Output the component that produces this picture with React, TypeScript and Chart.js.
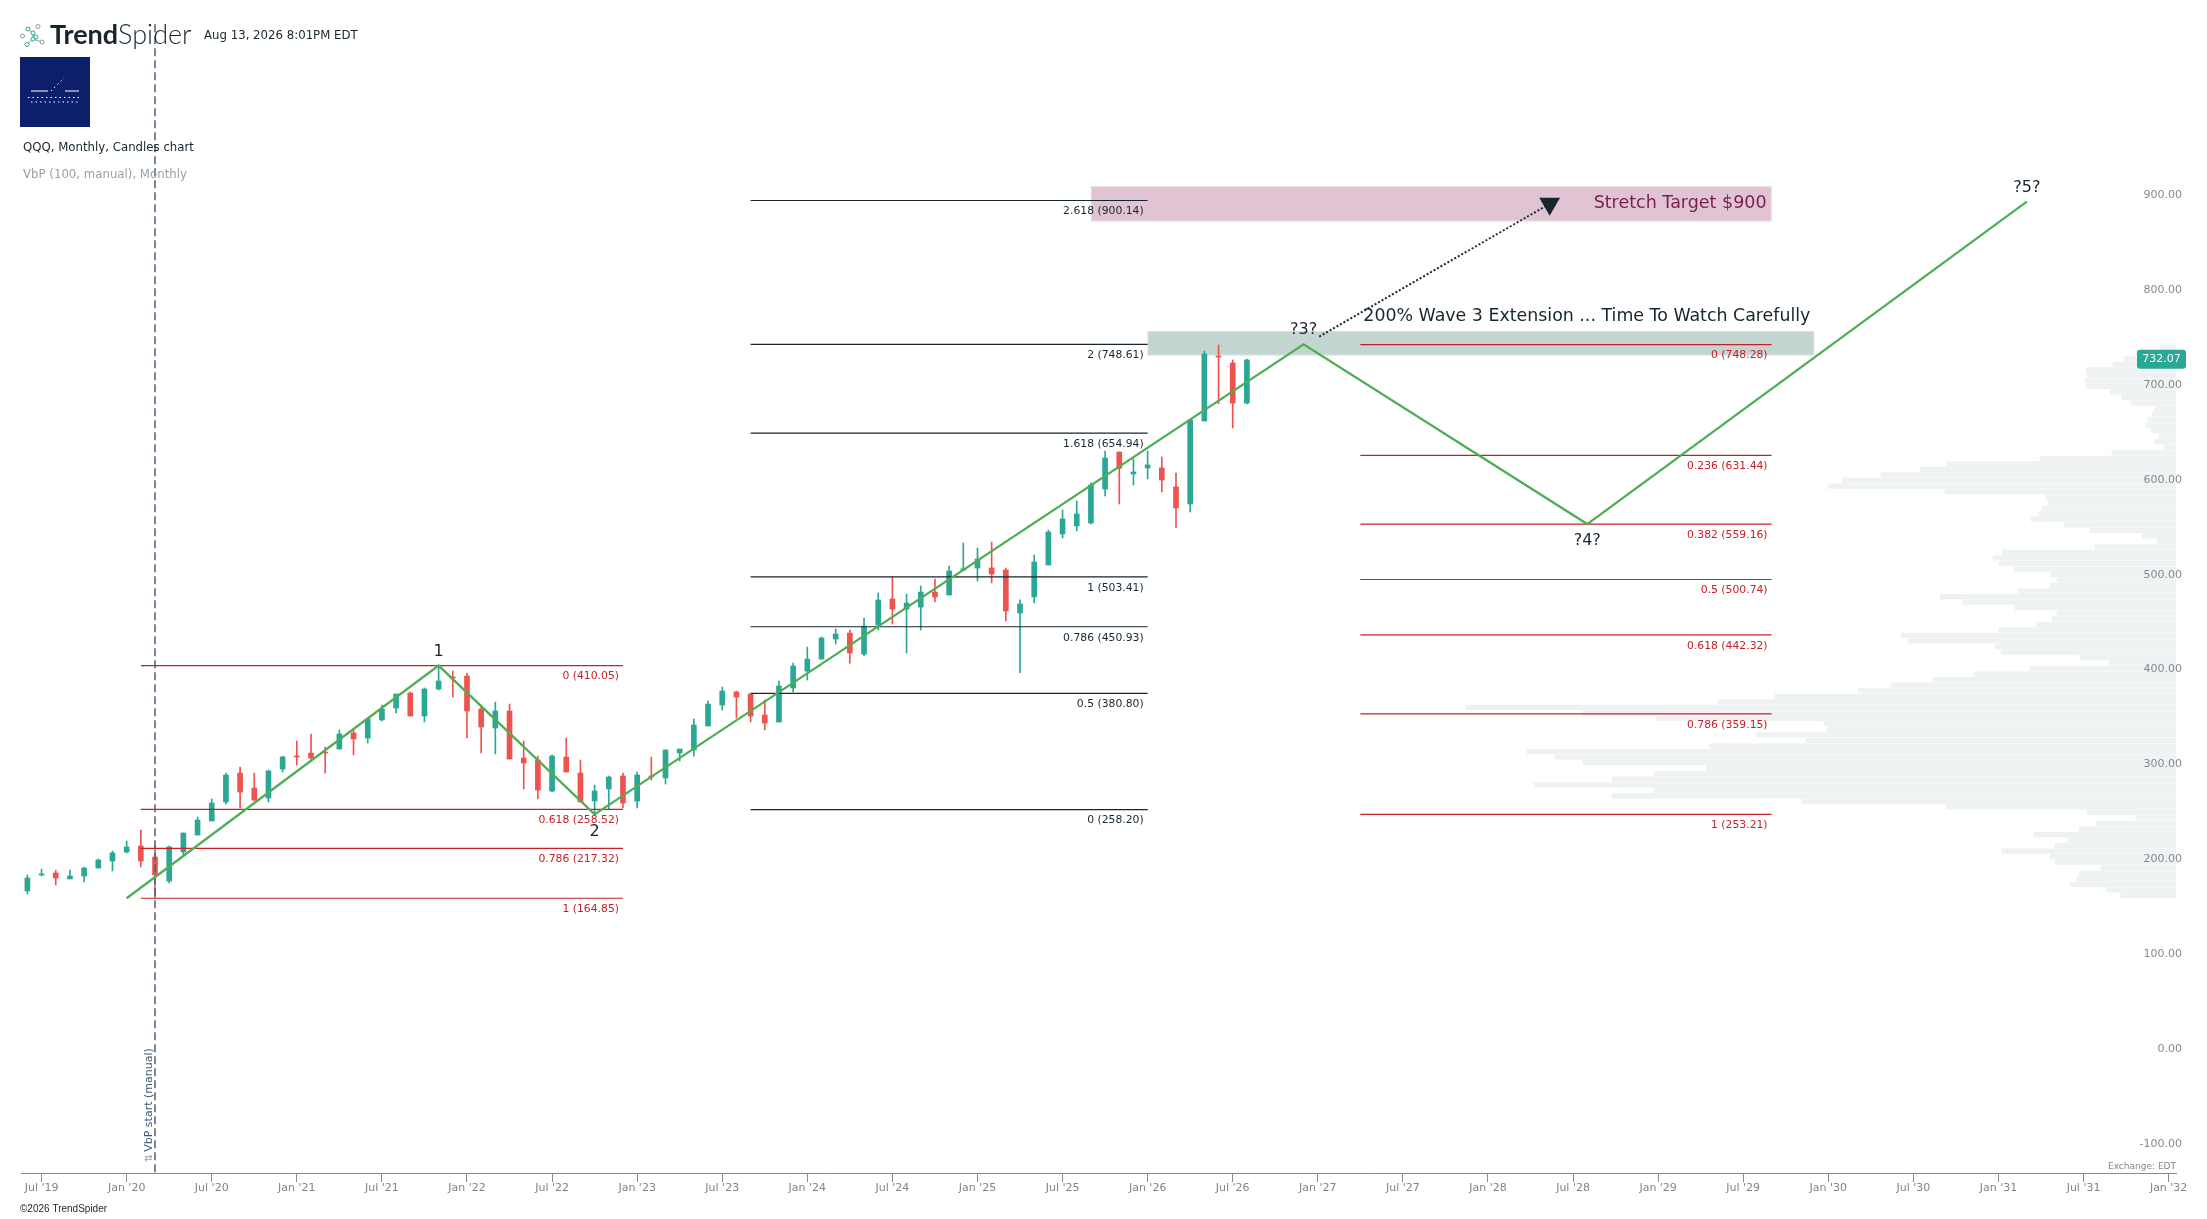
import React, { useEffect, useRef } from "react";
import { Chart, registerables } from "chart.js";

Chart.register(...registerables);

// Months counted from Jun '19 = 0
const opens = [172.5,189.4,191.5,185.2,188.3,196.7,204.1,213.6,219.9,208.3,183.0,213.6,231.5,246.3,266.3,296.8,281.0,270.5,301.1,314.7,317.9,319,322.1,339,333.7,352.7,365.3,381.1,356.9,385.3,398,399,364.3,344.3,362.2,312.6,310.5,277.9,313.7,296.8,267.3,280,293.7,267.3,293.7,291.6,317.9,321.1,346.4,368.5,382.2,380.1,358,350.6,386.4,404.3,416.9,438,444.3,422.2,452.8,480.2,469.6,471.7,487.5,484.4,510.7,512.8,512.9,510.8,465.5,482.4,516.1,548.7,557.2,560.3,596.1,635.1,612,618.3,618.3,598.3,580.3,667.8,736.3,728.9,686.7];
const highs = [189.4,195.7,194.6,194.6,197.8,206.2,214.7,225.2,236.8,221,219.9,233.6,250.5,269.5,296.8,303.2,296.8,300,314.7,330.6,337.9,324.2,342.2,342.2,354.8,368.5,380.1,382.2,386.4,410.05,404.3,402.2,368.5,371.6,369.5,330.6,314.7,315.8,333.7,310.5,284.2,293.7,296.8,297.9,313.7,321.1,322.1,353.7,372.7,387.4,383.2,380.1,373.8,393.8,412.7,429.6,440.1,448.6,447.5,460.1,486.5,503.3,485.4,493.9,501.2,514.9,539.2,533.9,540.3,512.9,479.2,526.6,552.9,574,583.5,602.5,636.2,635.1,627.8,636.2,629.9,613,668.8,741.5,747.9,732.1,733.1];
const lows = [169.4,188.3,178.8,185.2,182.0,196.7,193.6,212.6,197.8,164.85,180.9,210.4,231.5,246.3,264.2,260.0,267.3,266.3,297.9,305.3,310.5,296.8,322.1,315.8,328.4,351.6,360.1,356.9,350.6,384.3,376.9,333.7,317.9,316.9,311.6,280,269.5,276.8,297.9,266.3,252.6,258.9,260,260,289.5,285.2,309.5,314.7,346.4,363.2,354.8,350.6,342.2,350.6,382.2,394.8,416.9,432.8,412.7,420.1,447.5,453.8,423.3,447.5,477,484.4,510.7,499.1,497.1,457.1,402.5,476,516.1,544.5,551.9,559.3,588.8,580.3,600.4,606.7,593,555,571.9,667.8,685.7,660.4,685.7];
const closes = [186.2,190.4,186.2,188.3,196.7,205.2,212.6,218.9,204.1,189.4,218.9,233.6,247.3,265.2,294.7,276.8,268.4,299,313.7,313.7,312.6,317.9,337.9,332.7,353.7,364.3,380.1,356.9,385.3,393.8,396.9,362.2,345.3,362.2,311.6,307.4,278.9,314.7,297.9,266.3,277.9,292.6,265.2,294.7,292.6,321.1,322.1,347.4,369.5,383.2,376.9,356.9,349.5,388.5,409.6,416.9,439.1,443.3,423.3,451.7,479.1,469.6,475.9,487.5,482.3,509.7,512,522.3,506.6,467.6,475,519.2,550.8,564.5,569.8,600.4,628.8,617.9,614,621.4,605.6,576.1,668.8,738.4,735.2,686.7,732.07];

// Volume by price, top bin first
const vbpTopPrice = 745;
const vbpBinSize = 5.83;
const vbpVolumes = [16,40,52,63,90,89,91,90,66,54,45,21,24,28,30,25,17,21,11,64,136,229,256,295,334,348,231,130,128,134,137,145,112,86,34,19,81,174,183,177,162,125,119,126,158,236,213,161,119,124,139,177,275,268,181,175,96,67,146,202,243,285,318,401,458,710,593,520,352,349,420,370,467,649,621,593,470,522,564,642,522,564,374,230,89,40,80,97,142,108,121,174,126,121,75,97,99,106,69,55];

const yTickValues = [900,800,700,600,500,400,300,200,100,0,-100];
const xTickMonths = [1,7,13,19,25,31,37,43,49,55,61,67,73,79,85,91,97,103,109,115,121,127,133,139,145,151];
const xTickLabels = ["Jul '19","Jan '20","Jul '20","Jan '21","Jul '21","Jan '22","Jul '22","Jan '23","Jul '23","Jan '24","Jul '24","Jan '25","Jul '25","Jan '26","Jul '26","Jan '27","Jul '27","Jan '28","Jul '28","Jan '29","Jul '29","Jan '30","Jul '30","Jan '31","Jul '31","Jan '32"];

// Fibonacci sets
const fibAMonths = [8,42];
const fibALevels = ["0","0.618","0.786","1"];
const fibAPrices = [410.05,258.52,217.32,164.85];
const fibBMonths = [51,79];
const fibBLevels = ["2.618","2","1.618","1","0.786","0.5","0"];
const fibBPrices = [900.14,748.61,654.94,503.41,450.93,380.80,258.20];
const fibCMonths = [94,123];
const fibCLevels = ["0","0.236","0.382","0.5","0.618","0.786","1"];
const fibCPrices = [748.28,631.44,559.16,500.74,442.32,359.15,253.21];

// Wave path
const waveMonths = [7,29,40,90,110,141];
const wavePrices = [164.85,410.05,253.21,748.61,559.16,899];
const waveLabels = ["","1","2","?3?","?4?","?5?"];

const dottedMonths = [91.1,107.35];
const dottedPrices = [756.6,896.7];
const vbpStartMonth = 9;
const lastClose = 732.07;

const stretchBand = { months: [75,123], prices: [878.2,915.4] };
const waveBand = { months: [79,126], prices: [737,762.3] };

const GREEN = "#2aa795";
const RED = "#ef5350";
const DARK = "#17262e";
const FIB_RED = "#c62026";
const SANS = '"DejaVu Sans"';

const segments = (months: number[], prices: number[], color: string, order: number) =>
  prices.map((p) => ({
    type: "line" as const,
    xAxisID: "x",
    yAxisID: "y",
    data: [{ x: months[0], y: p }, { x: months[1], y: p }],
    borderColor: color,
    borderWidth: 1.2,
    pointRadius: 0,
    order,
  }));

const annotations = {
  id: "annotations",
  beforeDatasetsDraw(chart: any) {
    const { ctx, scales } = chart;
    const { x, y } = scales;
    const band = (b: any, fill: string, stroke: string) => {
      const l = x.getPixelForValue(b.months[0]);
      const r = x.getPixelForValue(b.months[1]);
      const t = y.getPixelForValue(b.prices[1]);
      const bt = y.getPixelForValue(b.prices[0]);
      ctx.fillStyle = fill;
      ctx.fillRect(l, t, r - l, bt - t);
      ctx.strokeStyle = stroke;
      ctx.lineWidth = 1;
      ctx.strokeRect(l + 0.5, t + 0.5, r - l - 1, bt - t - 1);
    };
    ctx.save();
    band(stretchBand, "#e0c4d3", "#ecdbe4");
    band(waveBand, "#c2d5d1", "#d3e1de");
    ctx.restore();
  },
  afterDraw(chart: any) {
    const { ctx, scales } = chart;
    const { x, y } = scales;
    const text = (s: string, px: number, py: number, font: string, color: string, align: CanvasTextAlign = "left") => {
      ctx.font = font;
      ctx.fillStyle = color;
      ctx.textAlign = align;
      ctx.textBaseline = "middle";
      ctx.fillText(s, px, py);
    };
    ctx.save();

    const fibLabels = (months: number[], levels: string[], prices: number[], color: string, pad: number) => {
      prices.forEach((p, i) => {
        text(`${levels[i]} (${p.toFixed(2)})`, x.getPixelForValue(months[1]) - pad, y.getPixelForValue(p) + 11, `10.8px ${SANS}`, color, "right");
      });
    };
    fibLabels(fibAMonths, fibALevels, fibAPrices, FIB_RED, 4);
    fibLabels(fibBMonths, fibBLevels, fibBPrices, DARK, 4);
    fibLabels(fibCMonths, fibCLevels, fibCPrices, FIB_RED, 4);

    waveLabels.forEach((l, i) => {
      if (!l) return;
      const below = l === "2" || l === "?4?";
      text(l, x.getPixelForValue(waveMonths[i]), y.getPixelForValue(wavePrices[i]) + (below ? 17 : -14), `16px ${SANS}`, DARK, "center");
    });

    text("Stretch Target $900", x.getPixelForValue(stretchBand.months[1]) - 5, y.getPixelForValue(897), `17.5px ${SANS}`, "#7b1e4b", "right");
    text("200% Wave 3 Extension ... Time To Watch Carefully", x.getPixelForValue(fibCMonths[0]) + 3, y.getPixelForValue(778), `17.4px ${SANS}`, DARK);

    // VbP start label
    ctx.save();
    ctx.translate(x.getPixelForValue(vbpStartMonth) - 6, 1100);
    ctx.rotate(-Math.PI / 2);
    text("VbP start (manual)", 0, 0, `11px ${SANS}`, "#3d5a73", "center");
    text("\u21c5", -58, 0, `10px ${SANS}`, "#9aa0a3", "center");
    ctx.restore();

    // Last price tag
    const tagY = y.getPixelForValue(lastClose) - 0.7;
    ctx.fillStyle = GREEN;
    ctx.beginPath();
    ctx.roundRect(2137, tagY - 9.5, 49, 19, 3);
    ctx.fill();
    text(lastClose.toFixed(2), 2161.5, tagY, `11px ${SANS}`, "#ffffff", "center");

    text("Exchange: EDT", 2176, 1167, `9px ${SANS}`, "#80878b", "right");
    text("\u00a92026 TrendSpider", 20, 1209, '10px "Liberation Sans"', DARK);

    // Header
    ctx.strokeStyle = "#8a9aa0";
    ctx.lineWidth = 1;
    const nodes: [number, number, string][] = [[22.5,36,"#8a9aa0"],[28,29,"#2aa795"],[38,26.5,"#8a9aa0"],[33,33,"#2aa795"],[33,39,"#2aa795"],[27,44.5,"#2aa795"],[42,42,"#8a9aa0"],[36,37,"#2aa795"]];
    ctx.beginPath();
    ctx.moveTo(28, 29); ctx.lineTo(33, 33); ctx.lineTo(33, 39); ctx.lineTo(27, 44.5);
    ctx.moveTo(33, 39); ctx.lineTo(42, 42);
    ctx.stroke();
    nodes.forEach(([cx, cy, c]) => {
      ctx.beginPath();
      ctx.arc(cx, cy, 2, 0, Math.PI * 2);
      ctx.fillStyle = "#ffffff";
      ctx.fill();
      ctx.strokeStyle = c;
      ctx.stroke();
    });
    text("Trend", 50, 35.5, '700 27px Lato', DARK);
    const w = ctx.measureText("Trend").width;
    text("Spider", 50 + w, 35.5, '300 27px Lato', DARK);
    text("Aug 13, 2026 8:01PM EDT", 204, 35.5, `11.75px ${SANS}`, DARK);

    ctx.fillStyle = "#0d1f6b";
    ctx.fillRect(20, 57, 70, 70);
    ctx.strokeStyle = "#ffffff";
    ctx.lineWidth = 1;
    ctx.beginPath();
    ctx.moveTo(31, 91); ctx.lineTo(48, 91);
    ctx.moveTo(65, 91); ctx.lineTo(79, 91);
    ctx.stroke();
    ctx.setLineDash([1.5, 3]);
    ctx.beginPath();
    ctx.moveTo(51, 91); ctx.lineTo(64, 78);
    ctx.moveTo(28, 97.5); ctx.lineTo(82, 97.5);
    ctx.moveTo(31, 102); ctx.lineTo(78, 102);
    ctx.stroke();
    ctx.setLineDash([]);

    text("QQQ, Monthly, Candles chart", 23, 148, `11.75px ${SANS}`, DARK);
    text("VbP (100, manual), Monthly", 23, 174.5, `11.75px ${SANS}`, "#9aa0a3");
    ctx.restore();
  },
};

export default function App() {
  const ref = useRef<HTMLCanvasElement>(null);
  useEffect(() => {
    document.body.style.margin = "0";
    const months = closes.map((_, i) => i);
    const colors = closes.map((c, i) => (c >= opens[i] ? GREEN : RED));
    const chart = new Chart(ref.current as HTMLCanvasElement, {
      data: {
        datasets: [
          {
            type: "bar",
            indexAxis: "y",
            xAxisID: "xVol",
            yAxisID: "y",
            data: vbpVolumes.map((v, i) => ({ x: v, y: vbpTopPrice - vbpBinSize * i })),
            backgroundColor: "#eff2f3",
            barThickness: 4.6,
            grouped: false,
            order: 6,
          },
          {
            type: "bar",
            xAxisID: "x",
            yAxisID: "y",
            data: months.map((m) => ({ x: m, y: [lows[m], highs[m]] })),
            backgroundColor: colors,
            barThickness: 1,
            grouped: false,
            order: 5,
          },
          {
            type: "bar",
            xAxisID: "x",
            yAxisID: "y",
            data: months.map((m) => ({ x: m, y: [opens[m], closes[m]] })),
            backgroundColor: colors,
            barThickness: 5,
            minBarLength: 1,
            grouped: false,
            order: 4,
          },
          ...segments(fibAMonths, fibAPrices, FIB_RED, 3),
          ...segments(fibBMonths, fibBPrices, DARK, 3),
          ...segments(fibCMonths, fibCPrices, FIB_RED, 3),
          {
            type: "line",
            xAxisID: "x",
            yAxisID: "y",
            data: [{ x: vbpStartMonth, y: -124 }, { x: vbpStartMonth, y: 1090 }],
            borderColor: "#4a6078",
            borderWidth: 1.5,
            borderDash: [8, 4],
            pointRadius: 0,
            order: 2,
          },
          {
            type: "line",
            xAxisID: "x",
            yAxisID: "y",
            data: dottedMonths.map((m, i) => ({ x: m, y: dottedPrices[i] })),
            borderColor: DARK,
            borderWidth: 2,
            borderDash: [2, 2],
            pointRadius: (c: any) => (c.dataIndex === 1 ? 12 : 0),
            pointStyle: "triangle",
            pointRotation: 180,
            pointBackgroundColor: DARK,
            pointBorderWidth: 0,
            order: 1,
          },
          {
            type: "line",
            xAxisID: "x",
            yAxisID: "y",
            data: waveMonths.map((m, i) => ({ x: m, y: wavePrices[i] })),
            borderColor: "#4fae54",
            borderWidth: 2.3,
            pointRadius: 0,
            order: 0,
          },
        ] as any,
      },
      options: {
        responsive: false,
        animation: false,
        devicePixelRatio: 1,
        events: [],
        layout: { autoPadding: false, padding: { left: 21, right: 31, top: 0, bottom: 0 } },
        plugins: { legend: { display: false }, tooltip: { enabled: false }, title: { display: false } },
        scales: {
          x: {
            type: "linear",
            position: "bottom",
            offset: false,
            bounds: "data",
            min: -0.451,
            max: 151.52,
            afterBuildTicks: (s: any) => {
              s.ticks = xTickMonths.map((v) => ({ value: v }));
            },
            afterFit: (s: any) => {
              s.height = 46;
            },
            grid: { drawOnChartArea: false, tickLength: 9, color: "#8a8a8a", offset: false },
            border: { color: "#8a8a8a", width: 1 },
            ticks: {
              autoSkip: false,
              maxRotation: 0,
              minRotation: 0,
              padding: 0,
              color: "#7f8589",
              font: { family: "DejaVu Sans", size: 11 },
              callback: (_v: any, i: number) => xTickLabels[i],
            },
          },
          xVol: {
            type: "linear",
            axis: "x",
            display: false,
            offset: false,
            bounds: "data",
            reverse: true,
            min: 0,
            max: 2155,
          },
          y: {
            type: "linear",
            position: "right",
            offset: false,
            bounds: "data",
            min: -124.66,
            max: 1111.4,
            afterBuildTicks: (s: any) => {
              s.ticks = yTickValues.map((v) => ({ value: v }));
            },
            afterFit: (s: any) => {
              s.width = 0;
              s.paddingTop = 0;
              s.paddingBottom = 0;
            },
            grid: { display: false, offset: false },
            border: { display: false },
            ticks: {
              z: 1,
              mirror: true,
              padding: 6,
              labelOffset: -5.5,
              color: "#85898c",
              font: { family: "DejaVu Sans", size: 11 },
              callback: (v: any) => Number(v).toFixed(2),
            },
          },
        },
      } as any,
      plugins: [annotations],
    });
    return () => chart.destroy();
  }, []);
  return <canvas ref={ref} width={2207} height={1219} style={{ display: "block", width: 2207, height: 1219 }} />;
}
